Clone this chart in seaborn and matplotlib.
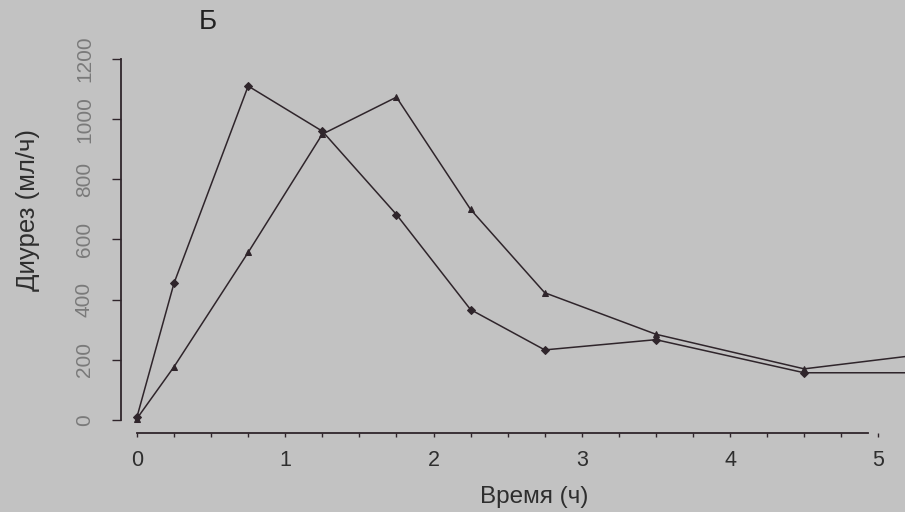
import numpy as np
import pandas as pd
import matplotlib
matplotlib.use("Agg")
import matplotlib.pyplot as plt
import seaborn as sns

# Time points (h) and diuresis (ml/h) for the two curves
time_a = [0, 0.25, 0.75, 1.25, 1.75, 2.25, 2.75, 3.5, 4.5, 5.5]
diur_a = [10, 455, 1110, 960, 683, 367, 233, 267, 157, 157]

time_b = [0, 0.25, 0.75, 1.25, 1.75, 2.25, 2.75, 3.5, 4.5, 5.5]
diur_b = [5, 177, 557, 950, 1073, 700, 423, 285, 170, 230]

x_ticks = [0, 1, 2, 3, 4, 5]
y_ticks = [0, 200, 400, 600, 800, 1000, 1200]

bg = "#c2c2c2"
ink = "#2f252b"

sns.set_style("white", {"axes.facecolor": bg, "figure.facecolor": bg})
plt.rcParams["font.family"] = ["Liberation Sans", "DejaVu Sans"]

df = pd.concat([
    pd.DataFrame({"t": time_a, "d": diur_a, "g": "a"}),
    pd.DataFrame({"t": time_b, "d": diur_b, "g": "b"}),
])

fig = plt.figure(figsize=(9.05, 5.12), dpi=100)
ax = fig.add_axes([130 / 905, 87 / 512, 775 / 905, 385 / 512])
ax.set_facecolor(bg)

sns.lineplot(data=df, x="t", y="d", style="g",
             markers={"a": "D", "b": "^"}, dashes=False,
             color=ink, linewidth=1.1, markersize=4,
             markeredgecolor=ink, legend=False, ax=ax,
             estimator=None, sort=False)

ax.set_xlim(-0.047, 5.18)
ax.set_ylim(-16.6, 1263)

for s in ["top", "right"]:
    ax.spines[s].set_visible(False)
ax.spines["left"].set_position(("outward", 6.5))
ax.spines["bottom"].set_position(("outward", 5.8))
ax.spines["left"].set_bounds(0, 1200)
ax.spines["bottom"].set_bounds(0, 4.93)
for s in ["left", "bottom"]:
    ax.spines[s].set_color(ink)
    ax.spines[s].set_linewidth(1.3)

ax.set_xticks(x_ticks)
ax.set_xticks(np.arange(0, 5.01, 0.25), minor=True)
ax.set_yticks(y_ticks)
ax.set_xticklabels([str(v) for v in x_ticks])
ax.set_yticklabels([str(v) for v in y_ticks])

ax.tick_params(axis="x", which="both", direction="out", length=3, width=1.0,
               color=ink, labelsize=15.5, labelcolor="#2e2e2e", pad=9,
               bottom=True)
ax.tick_params(axis="y", direction="out", length=6.5, width=1.0, color=ink,
               labelsize=15, labelcolor="#7a7a7a", pad=13, labelrotation=90,
               left=True)
for lab in ax.get_yticklabels():
    lab.set_va("center")

ax.set_xlabel("")
ax.set_ylabel("")
fig.text(534 / 905, 1 - 497 / 512, "Время (ч)", fontsize=17.5,
         color="#2e2e2e", ha="center", va="center")
fig.text(28 / 905, 1 - 210 / 512, "Диурез (мл/ч)", fontsize=18.5,
         color="#2e2e2e", ha="center", va="center", rotation=90)
fig.text(208 / 905, 1 - 22 / 512, "Б", fontsize=20, color="#222222",
         ha="center", va="center")

fig.savefig("out.png", dpi=100, facecolor=bg)
